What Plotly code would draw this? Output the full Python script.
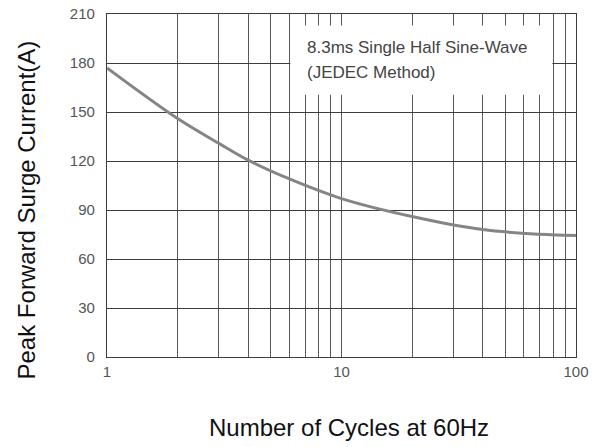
import plotly.graph_objects as go

cycles = [1, 2, 3, 4, 6, 10, 20, 40, 70, 100]
surge_current = [177, 146, 130.8, 120.5, 109, 97, 86, 78, 75.1, 74.4]

x_major = [1, 10, 100]
x_major_labels = ["1", "10", "100"]
x_minor = [2, 3, 4, 5, 6, 7, 8, 9, 20, 30, 40, 50, 60, 70, 80, 90]
y_ticks = [0, 30, 60, 90, 120, 150, 180, 210]

note_line1 = "8.3ms Single Half Sine-Wave"
note_line2 = "(JEDEC Method)"
x_title = "Number of Cycles at 60Hz"
y_title = "Peak Forward Surge Current(A)"

grid_h = "#3c3c3c"
grid_v = "#5a5a5a"

fig = go.Figure()
fig.add_trace(go.Scatter(
    x=cycles, y=surge_current, mode="lines",
    line=dict(color="#858585", width=3, shape="spline", smoothing=1.0),
    hoverinfo="skip", showlegend=False,
))

fig.update_layout(
    width=595, height=447,
    margin=dict(l=107, r=19, t=14, b=90),
    paper_bgcolor="white", plot_bgcolor="white",
    font=dict(family="Arial, Liberation Sans, sans-serif"),
    xaxis=dict(
        type="log", range=[0, 2], automargin=False,
        tickmode="array", tickvals=x_major, ticktext=x_major_labels,
        ticks="outside", ticklen=1, tickcolor="rgba(0,0,0,0)",
        tickfont=dict(size=15, color="#555555"),
        showgrid=True, gridcolor=grid_v, gridwidth=1.3,
        minor=dict(tickmode="array", tickvals=x_minor, showgrid=True,
                   gridcolor=grid_v, gridwidth=1.3, ticks=""),
        showline=True, linecolor=grid_h, linewidth=1.3, mirror=True,
        zeroline=False,
    ),
    yaxis=dict(
        range=[0, 210], automargin=False,
        tickmode="array", tickvals=y_ticks,
        ticks="outside", ticklen=8, tickcolor="rgba(0,0,0,0)",
        tickfont=dict(size=15, color="#555555"),
        showgrid=True, gridcolor=grid_h, gridwidth=1.3,
        showline=True, linecolor=grid_h, linewidth=1.3, mirror=True,
        zeroline=False,
    ),
)

# white background behind the note
fig.add_shape(type="rect", xref="x", yref="y", x0=6.05, x1=79.3, y0=160.5, y1=203,
              fillcolor="white", line=dict(width=0), layer="above")

fig.add_annotation(text=note_line1, xref="paper", yref="paper", x=0.423, y=(357 - 47) / 343,
                   xanchor="left", yanchor="middle", showarrow=False,
                   font=dict(size=17, color="#444444"))
fig.add_annotation(text=note_line2, xref="paper", yref="paper", x=0.423, y=(357 - 72) / 343,
                   xanchor="left", yanchor="middle", showarrow=False,
                   font=dict(size=17, color="#444444"))

fig.add_annotation(text=x_title, xref="paper", yref="paper",
                   x=(348.5 - 107) / 469, y=-(428 - 357) / 343,
                   xanchor="center", yanchor="middle", showarrow=False,
                   font=dict(size=24, color="#111111"))
fig.add_annotation(text=y_title, xref="paper", yref="paper",
                   x=-(107 - 26) / 469, y=(357 - 210.5) / 343, textangle=-90,
                   xanchor="center", yanchor="middle", showarrow=False,
                   font=dict(size=24, color="#111111"))

fig.write_html("out.html", config={"displayModeBar": False},
               post_script="document.body.style.margin='0';document.body.style.overflow='hidden';")
